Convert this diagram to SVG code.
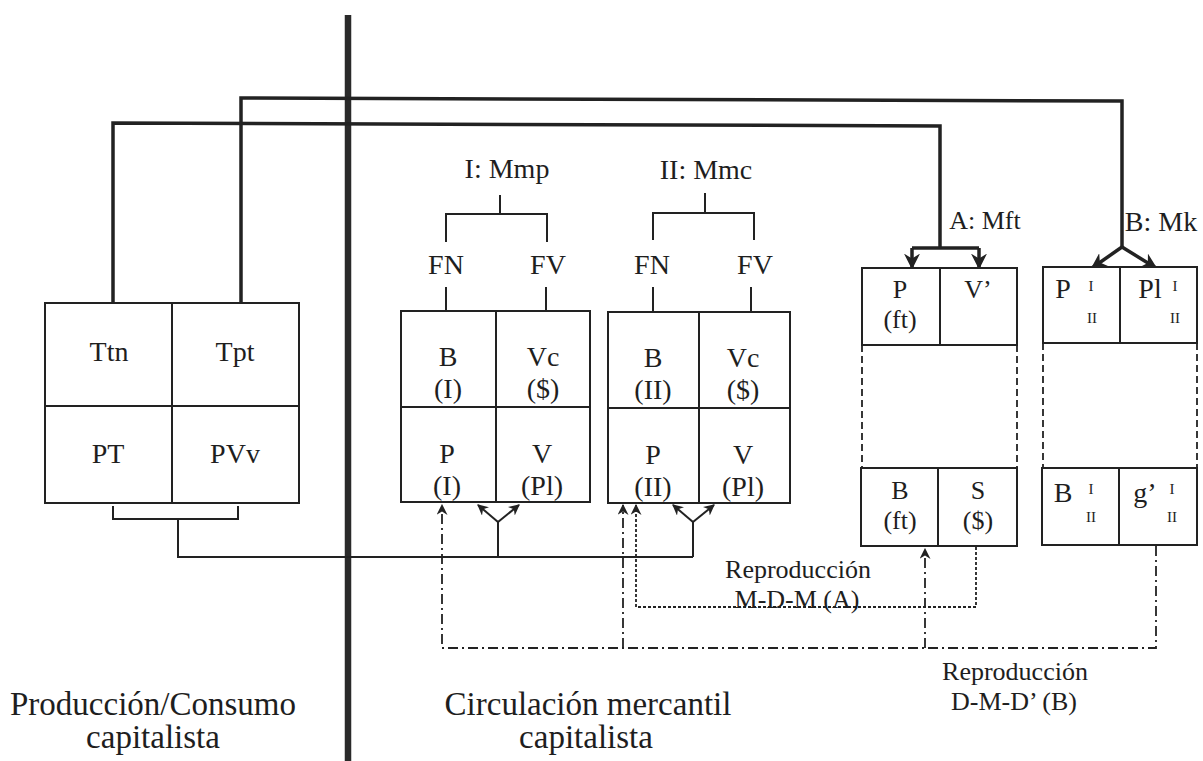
<svg xmlns="http://www.w3.org/2000/svg" width="1203" height="761" viewBox="0 0 1203 761">
<style>
.t{font-family:"Liberation Serif","Times New Roman",serif;font-size:28px;fill:#1e1e1e;text-anchor:middle}
.h{font-size:28px}
.m{font-size:26px}
.s{font-size:15px}
.b{font-size:33px}
.r{font-size:26px}
.box{fill:#fff;stroke:#222;stroke-width:2}
.ln{fill:none;stroke:#222;stroke-width:2}
.thick{fill:none;stroke:#222;stroke-width:3.5}
.thin{fill:none;stroke:#222;stroke-width:1.8}
.dd{stroke-dasharray:10 4 2 4}
.dot{stroke-dasharray:3 2}
.dash{fill:none;stroke:#222;stroke-width:1.8;stroke-dasharray:7 4}
</style>
<defs>
<marker id="big" viewBox="0 0 10 10" refX="9" refY="5" markerWidth="16" markerHeight="16" markerUnits="userSpaceOnUse" orient="auto">
<path d="M0,0 L10,5 L0,10 L3,5 z" fill="#222"/>
</marker>
<marker id="sm" viewBox="0 0 10 10" refX="9" refY="5" markerWidth="11" markerHeight="11" markerUnits="userSpaceOnUse" orient="auto">
<path d="M0,0 L10,5 L0,10 L3,5 z" fill="#222"/>
</marker>
</defs>
<rect width="1203" height="761" fill="#fff"/>

<!-- divider -->
<line x1="348" y1="15" x2="348" y2="761" stroke="#2a2a2a" stroke-width="6.5"/>

<g id="connectors">
  <path class="thick" d="M241,303 V98 L1122,101 V247"/>
  <path class="thick" d="M113,303 V123 L940,126 V248"/>
  <path class="thick" d="M912,248 H979"/>
  <path class="thick" d="M912,248 V268" marker-end="url(#big)"/>
  <path class="thick" d="M979,248 V268" marker-end="url(#big)"/>
  <path class="thick" d="M1122,247 L1092,268" marker-end="url(#big)"/>
  <path class="thick" d="M1122,247 L1156,268" marker-end="url(#big)"/>
  <path class="ln" d="M500,195 V214 M446,242 V214 H547 V242"/>
  <path class="ln" d="M705,193 V213 M653,240 V213 H754 V240"/>
  <path class="ln" d="M446,287 V311 M546,287 V311"/>
  <path class="ln" d="M653,287 V312 M751,287 V312"/>
  <path class="ln" d="M113,506 V519 H238 V506 M178,519 V557 H693"/>
  <path class="ln" d="M498,557 V522"/>
  <path class="ln" d="M498,522 L478,505" marker-end="url(#sm)"/>
  <path class="ln" d="M498,522 L519,505" marker-end="url(#sm)"/>
  <path class="ln" d="M693,557 V522"/>
  <path class="ln" d="M693,522 L673,505" marker-end="url(#sm)"/>
  <path class="ln" d="M693,522 L714,505" marker-end="url(#sm)"/>
  <path class="thin dd" d="M1156,546 V648 H442 V505" marker-end="url(#sm)"/>
  <path class="thin dd" d="M623,648 V505" marker-end="url(#sm)"/>
  <path class="thin dd" d="M925,648 V549" marker-end="url(#sm)"/>
  <path class="thin dot" d="M976,547 V607 H636 V505" marker-end="url(#sm)"/>
</g>

<g id="node-left">
  <rect class="box" x="45" y="303" width="254" height="200"/>
  <path class="ln" d="M172,303 V503 M45,406 H299"/>
  <text class="t" x="109" y="361" font-size="29">Ttn</text>
  <text class="t" x="235" y="361" font-size="29">Tpt</text>
  <text class="t" x="108" y="463" font-size="29">PT</text>
  <text class="t" x="235" y="463" font-size="29">PVv</text>
</g>

<g id="node-I">
  <text class="t h" x="507" y="178">I: Mmp</text>
  <text class="t" x="446" y="274">FN</text>
  <text class="t" x="548" y="274">FV</text>
  <rect class="box" x="401" y="311" width="189" height="191"/>
  <path class="ln" d="M496,311 V502 M401,407 H590"/>
  <text class="t" x="448" y="366">B</text>
  <text class="t" x="448" y="398">(I)</text>
  <text class="t" x="543" y="366">Vc</text>
  <text class="t" x="543" y="398">($)</text>
  <text class="t" x="447" y="463">P</text>
  <text class="t" x="447" y="495">(I)</text>
  <text class="t" x="542" y="463">V</text>
  <text class="t" x="542" y="495">(Pl)</text>
</g>

<g id="node-II">
  <text class="t h" x="706" y="179">II: Mmc</text>
  <text class="t" x="652" y="274">FN</text>
  <text class="t" x="755" y="274">FV</text>
  <rect class="box" x="608" y="312" width="182" height="191"/>
  <path class="ln" d="M699,312 V503 M608,408 H790"/>
  <text class="t" x="653" y="367">B</text>
  <text class="t" x="653" y="399">(II)</text>
  <text class="t" x="743" y="367">Vc</text>
  <text class="t" x="743" y="399">($)</text>
  <text class="t" x="653" y="464">P</text>
  <text class="t" x="653" y="496">(II)</text>
  <text class="t" x="743" y="464">V</text>
  <text class="t" x="743" y="496">(Pl)</text>
</g>

<g id="node-A">
  <text class="t m" x="985" y="229">A: Mft</text>
  <rect class="box" x="862" y="268" width="155" height="77"/>
  <path class="ln" d="M940,268 V345"/>
  <path class="dash" d="M862,345 V468 M1017,345 V468"/>
  <rect class="box" x="861" y="468" width="156" height="78"/>
  <path class="ln" d="M938,468 V546"/>
  <text class="t m" x="900" y="298">P</text>
  <text class="t m" x="900" y="328">(ft)</text>
  <text class="t m" x="978" y="298">V’</text>
  <text class="t m" x="900" y="499">B</text>
  <text class="t m" x="900" y="529">(ft)</text>
  <text class="t m" x="978" y="499">S</text>
  <text class="t m" x="978" y="529">($)</text>
</g>

<g id="node-B">
  <text class="t" x="1161" y="231">B: Mk</text>
  <rect class="box" x="1043" y="267" width="154" height="76"/>
  <path class="ln" d="M1120,267 V343"/>
  <path class="dash" d="M1043,343 V468 M1197,343 V468"/>
  <rect class="box" x="1042" y="468" width="155" height="77"/>
  <path class="ln" d="M1119,468 V545"/>
  <text class="t" x="1063" y="298">P</text>
  <text class="t s" x="1091" y="291">I</text>
  <text class="t s" x="1092" y="323">II</text>
  <text class="t" x="1150" y="298">Pl</text>
  <text class="t s" x="1175" y="291">I</text>
  <text class="t s" x="1175" y="323">II</text>
  <text class="t" x="1063" y="502">B</text>
  <text class="t s" x="1091" y="494">I</text>
  <text class="t s" x="1091" y="522">II</text>
  <text class="t" x="1145" y="502">g’</text>
  <text class="t s" x="1172" y="494">I</text>
  <text class="t s" x="1172" y="522">II</text>
</g>

<g id="labels">
  <text class="t r" x="798" y="578">Reproducción</text>
  <text class="t r" x="797" y="608">M-D-M (A)</text>
  <text class="t r" x="1015" y="680">Reproducción</text>
  <text class="t r" x="1014" y="710">D-M-D’ (B)</text>
  <text class="t b" x="153" y="715">Producción/Consumo</text>
  <text class="t b" x="153" y="748">capitalista</text>
  <text class="t b" x="588" y="715">Circulación mercantil</text>
  <text class="t b" x="586" y="748">capitalista</text>
</g>
</svg>
